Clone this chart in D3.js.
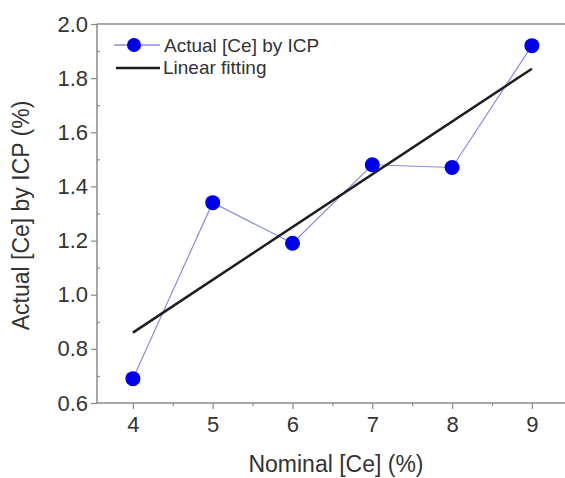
<!DOCTYPE html>
<html><head><meta charset="utf-8">
<script src="https://cdn.jsdelivr.net/npm/d3@7"></script>
<style>body{margin:0;background:#fff}svg{display:block}text{font-family:"Liberation Sans",Arial,sans-serif}</style>
</head><body>
<svg id="c" width="565" height="478"></svg>
<script>
const nominal = [4, 5, 6, 7, 8, 9];
const actual = [0.69, 1.34, 1.19, 1.48, 1.47, 1.92];
const fitX = [4, 9];
const fitY = [0.86, 1.835];
const xTicks = [4, 5, 6, 7, 8, 9];
const xMinor = [4.5, 5.5, 6.5, 7.5, 8.5];
const yTicks = [0.6, 0.8, 1.0, 1.2, 1.4, 1.6, 1.8, 2.0];
const yMinor = [0.7, 0.9, 1.1, 1.3, 1.5, 1.7, 1.9];
const seriesName = "Actual [Ce] by ICP";
const fitName = "Linear fitting";
const xTitle = "Nominal [Ce] (%)";
const yTitle = "Actual [Ce] by ICP (%)";

const svg = d3.select("#c");
const L = 97, R = 565, T = 24, B = 403;
const x = d3.scaleLinear().domain([3.55, 9.415]).range([L, R]);
const y = d3.scaleLinear().domain([0.6, 2.0]).range([B, T]);
const axisCol = "#8a8a8a", textCol = "#333";

// top frame
svg.append("line").attr("x1", L).attr("x2", R).attr("y1", T).attr("y2", T)
  .attr("stroke", "#aaa").attr("stroke-width", 2);

// x axis
const gx = svg.append("g").attr("transform", `translate(0,${B})`)
  .call(d3.axisBottom(x).tickValues(xTicks).tickFormat(d3.format("d")).tickSize(6).tickPadding(7));
gx.selectAll(".tick text").attr("font-size", 22).attr("fill", textCol);
svg.append("g").attr("transform", `translate(0,${B})`)
  .call(d3.axisBottom(x).tickValues(xMinor).tickSize(3).tickFormat(""))
  .call(g => g.select(".domain").remove());
// y axis
const gy = svg.append("g").attr("transform", `translate(${L},0)`)
  .call(d3.axisLeft(y).tickValues(yTicks).tickFormat(d3.format(".1f")).tickSize(6).tickPadding(3));
gy.selectAll(".tick text").attr("font-size", 22).attr("fill", textCol);
svg.append("g").attr("transform", `translate(${L},0)`)
  .call(d3.axisLeft(y).tickValues(yMinor).tickSize(-3).tickFormat(""))
  .call(g => g.select(".domain").remove());
svg.selectAll(".domain").attr("stroke", axisCol).attr("stroke-width", 1.5);
svg.selectAll(".tick line").attr("stroke", axisCol).attr("stroke-width", 1.2);
gx.select(".domain").attr("d", `M${L},0H${R}`);
gy.select(".domain").attr("d", `M0,${B}V${T}`);

// titles
svg.append("text").attr("x", 336).attr("y", 472).attr("text-anchor", "middle")
  .attr("font-size", 23).attr("fill", textCol).text(xTitle);
svg.append("text").attr("transform", `translate(29,${(T + B) / 2 + 2}) rotate(-90)`)
  .attr("text-anchor", "middle").attr("font-size", 23).attr("fill", textCol).text(yTitle);

// data connecting line
const pts = nominal.map((d, i) => [d, actual[i]]);
svg.append("path").datum(pts)
  .attr("d", d3.line().x(d => x(d[0])).y(d => y(d[1])))
  .attr("fill", "none").attr("stroke", "#8c8ce0").attr("stroke-width", 1.2);
// fit line
svg.append("path").datum(fitX.map((d, i) => [d, fitY[i]]))
  .attr("d", d3.line().x(d => x(d[0])).y(d => y(d[1])))
  .attr("fill", "none").attr("stroke", "#1e1e1e").attr("stroke-width", 2.5);
// points
svg.selectAll("circle.pt").data(pts).enter().append("circle").attr("class", "pt")
  .attr("cx", d => x(d[0])).attr("cy", d => y(d[1])).attr("r", 7.5).attr("fill", "#0000e6");

// legend
const lg = svg.append("g");
lg.append("line").attr("x1", 114).attr("x2", 160).attr("y1", 45).attr("y2", 45)
  .attr("stroke", "#8c8ce0").attr("stroke-width", 1.5);
lg.append("circle").attr("cx", 134).attr("cy", 45).attr("r", 7).attr("fill", "#0000e6");
lg.append("text").attr("x", 164).attr("y", 52).attr("font-size", 19).attr("fill", textCol).text(seriesName);
lg.append("line").attr("x1", 116).attr("x2", 160).attr("y1", 68).attr("y2", 68)
  .attr("stroke", "#1e1e1e").attr("stroke-width", 2.5);
lg.append("text").attr("x", 163).attr("y", 74).attr("font-size", 19).attr("fill", textCol).text(fitName);
</script>
</body></html>
